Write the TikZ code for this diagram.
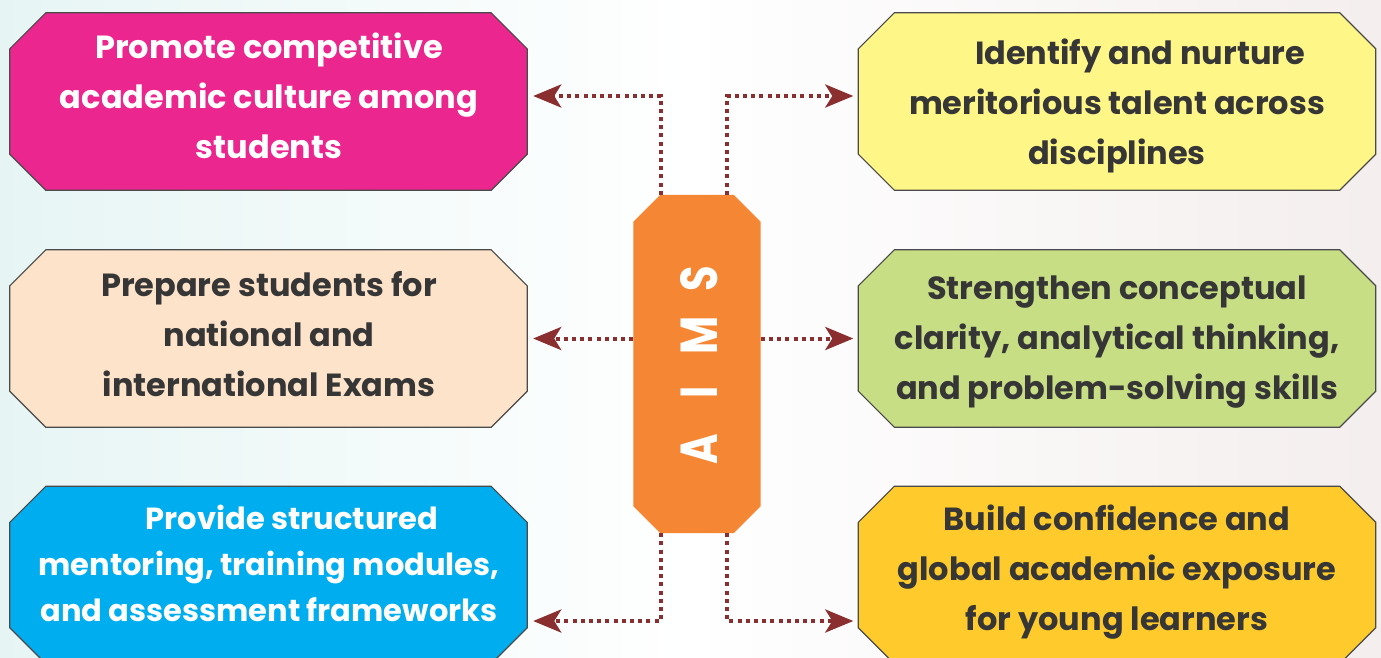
\documentclass[tikz,border=0pt]{standalone}
\usepackage{fontspec}
\setmainfont{Poppins}
\usetikzlibrary{arrows.meta}
\definecolor{bgL}{HTML}{E6F5F4}
\definecolor{bgR}{HTML}{F4EEEE}
\definecolor{cPink}{HTML}{EC268F}
\definecolor{cYellow}{HTML}{FFF688}
\definecolor{cPeach}{HTML}{FDE3C9}
\definecolor{cGreen}{HTML}{C7DE85}
\definecolor{cBlue}{HTML}{00AEEF}
\definecolor{cGold}{HTML}{FFCA2B}
\definecolor{cOrange}{HTML}{F58634}
\definecolor{cArrow}{HTML}{8B2E30}
\definecolor{cText}{HTML}{363636}
\definecolor{cEdge}{HTML}{4A4A4A}
\newcommand\chambox[3]{% name, fill, cut
  \filldraw[boxline, fill=#2]
    ([xshift=#3]#1.north west) -- ([xshift=-#3]#1.north east) --
    ([yshift=-#3]#1.north east) -- ([yshift=#3]#1.south east) --
    ([xshift=-#3]#1.south east) -- ([xshift=#3]#1.south west) --
    ([yshift=#3]#1.south west) -- ([yshift=-#3]#1.north west) -- cycle;}
\tikzset{
  boxbase/.style={rectangle, draw=none, inner sep=0pt, minimum width=517pt, minimum height=177pt},
  boxline/.style={draw=cEdge, line width=1.2pt, line join=miter},
  boxtext/.style={align=center, inner sep=0pt, font=\fontsize{32}{50}\selectfont\bfseries},
  conn/.style={draw=cArrow, line width=4pt, dash pattern=on 4pt off 4.2pt,
     -{Stealth[length=28pt,width=23pt,inset=7pt,fill=cArrow]}},
}
\begin{document}
\begin{tikzpicture}[x=1pt,y=-1pt]
\useasboundingbox (0,0) rectangle (1381,657);
\shade[left color=bgL, right color=bgR, middle color=white] (0,0) rectangle (1381,657);

% boxes
\node[boxbase] (tl) at (268.5,101.5) {};
\node[boxbase] (tr) at (1117,101.5) {};
\node[boxbase] (ml) at (268.5,338.5) {};
\node[boxbase] (mr) at (1117,338.5) {};
\node[boxbase] (bl) at (268.5,575) {};
\node[boxbase] (br) at (1117,575) {};
\chambox{tl}{cPink}{36pt}
\chambox{tr}{cYellow}{36pt}
\chambox{ml}{cPeach}{36pt}
\chambox{mr}{cGreen}{36pt}
\chambox{bl}{cBlue}{36pt}
\chambox{br}{cGold}{36pt}

% central box
\node[rectangle, draw=none, inner sep=0pt, minimum width=127pt, minimum height=338pt] (aims) at (697,364) {};
\fill[cOrange]
    ([xshift=27pt]aims.north west) -- ([xshift=-27pt]aims.north east) --
    ([yshift=-27pt]aims.north east) -- ([yshift=27pt]aims.south east) --
    ([xshift=-27pt]aims.south east) -- ([xshift=27pt]aims.south west) --
    ([yshift=27pt]aims.south west) -- ([yshift=-27pt]aims.north west) -- cycle;
\node[rotate=90, text=white, inner sep=0pt, font=\fontsize{52}{52}\selectfont\bfseries] (aimstext) at (699,364)
  {\makebox[57pt]{\scalebox{0.8}[1]{A}}\makebox[57pt]{\scalebox{0.8}[1]{I}}\makebox[57pt]{\scalebox{0.8}[1]{M}}\makebox[57pt]{\scalebox{0.8}[1]{S}}};

% connectors
\draw[conn, shorten >=6pt] ([xshift=-36pt]aims.north) |- ([yshift=5.5pt]tl.east);
\draw[conn, shorten >=5pt] ([xshift=30pt]aims.north) |- ([yshift=5.5pt]tr.west);
\draw[conn, shorten >=6pt] (aims.west |- ml.east) -- (ml.east);
\draw[conn, shorten >=5pt] (aims.east |- mr.west) -- (mr.west);
\draw[conn, shorten >=6pt] ([xshift=-36pt]aims.south) |- ([yshift=-46pt]bl.east);
\draw[conn, shorten >=5pt] ([xshift=30pt]aims.south) |- ([yshift=-46pt]br.west);

% texts
\node[boxtext, text=white] (tlt) at (269,96) {Promote competitive\\academic culture among\\students};
\node[boxtext, text=cText] (trt) at (1117,106) {\hspace*{46pt}Identify and nurture\\meritorious talent across\\disciplines};
\node[boxtext, text=cText] (mlt) at (269,334) {Prepare students for\\national and\\international Exams};
\node[boxtext, text=cText] (mrt) at (1117,342) {Strengthen conceptual\\clarity, analytical thinking,\\and problem-solving skills};
\node[boxtext, text=white, font=\fontsize{30.5}{46}\selectfont\bfseries] (blt) at (269,563.5) {\hspace*{46pt}Provide structured\\mentoring, training modules,\\and assessment frameworks};
\node[boxtext, text=cText] (brt) at (1117,572) {Build confidence and\\global academic exposure\\for young learners};
\end{tikzpicture}
\end{document}
